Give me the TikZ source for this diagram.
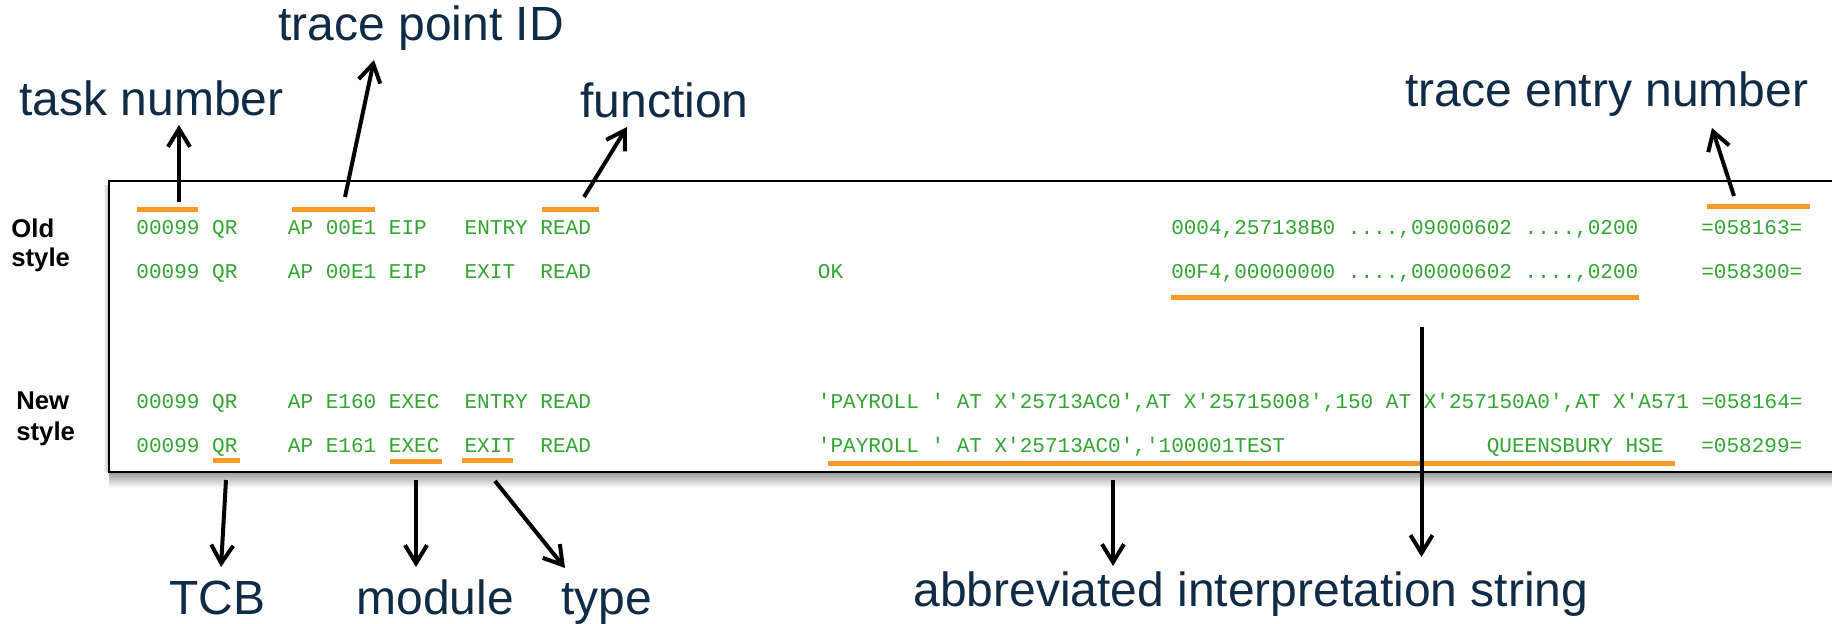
\documentclass[tikz,border=0pt]{standalone}
\usepackage{fontspec}
\setmainfont{Liberation Sans}
\setmonofont{Liberation Mono}
\usetikzlibrary{arrows.meta}
\definecolor{trgreen}{RGB}{50,165,50}
\definecolor{trorange}{RGB}{247,154,38}
\definecolor{trnavy}{RGB}{15,43,70}
\begin{document}
\begin{tikzpicture}[x=0.5pt,y=-0.5pt,
  lbl/.style={font=\fontsize{24}{28}\selectfont, text=trnavy, anchor=base west, inner sep=0pt},
  sty/.style={font=\bfseries\fontsize{12.85}{15}\selectfont, anchor=base west, inner sep=0pt},
  mono/.style={font=\ttfamily\fontsize{10.52}{12}\selectfont, text=trgreen, anchor=base west, inner sep=0pt},
  bar/.style={draw=trorange, line width=2.5pt},
  arr/.style={-{Straight Barb[length=9pt,width=11pt]}, line width=2pt},
]
\useasboundingbox (0,0) rectangle (1832,624);
\fill[white] (0,0) rectangle (1832,624);
% shadow and box
\shade[top color=black!40, bottom color=white] (109,472) rectangle (1832,488);
\shade[left color=white, right color=black!30] (103,186) rectangle (109.4,472);
\draw[line width=1pt, fill=white] (109.4,181) rectangle (1845,471.7);

% style labels
\node[sty] (olda) at (11,237.7) {Old};
\node[sty] (oldb) at (11,266.7) {style};
\node[sty] (newa) at (16,409.3) {New};
\node[sty] (newb) at (16,440.7) {style};

% trace rows
\def\cw{12.62}
\node[mono] (r1a) at (136,235) {00099~QR~~~~AP~00E1~EIP~~~ENTRY~READ};
\node[mono] (r1b) at ({136+82*\cw},235) {0004,257138B0~....,09000602~....,0200};
\node[mono] (r1c) at ({136+124*\cw},235) {=058163=};

\node[mono] (r2a) at (136,278.3) {00099~QR~~~~AP~00E1~EIP~~~EXIT~~READ};
\node[mono] (r2b) at ({136+54*\cw},278.3) {OK};
\node[mono] (r2c) at ({136+82*\cw},278.3) {00F4,00000000~....,00000602~....,0200};
\node[mono] (r2d) at ({136+124*\cw},278.3) {=058300=};

\node[mono] (r3a) at (136,409) {00099~QR~~~~AP~E160~EXEC~~ENTRY~READ};
\node[mono] (r3b) at ({136+54*\cw},409) {'PAYROLL~'~AT~X'25713AC0',AT~X'25715008',150~AT~X'257150A0',AT~X'A571~=058164=};

\node[mono] (r4a) at (136,452.3) {00099~QR~~~~AP~E161~EXEC~~EXIT~~READ};
\node[mono] (r4b) at ({136+54*\cw},452.3) {'PAYROLL~'~AT~X'25713AC0','100001TEST};
\node[mono] (r4c) at ({136+107*\cw},452.3) {QUEENSBURY~HSE};
\node[mono] (r4d) at ({136+124*\cw},452.3) {=058299=};

% orange bars
\coordinate (b1s) at (137,210);   \coordinate (b1e) at (198,210);
\coordinate (b2s) at (292,210);   \coordinate (b2e) at (375,210);
\coordinate (b3s) at (542,210);   \coordinate (b3e) at (599,210);
\coordinate (b4s) at (1707,206.5);\coordinate (b4e) at (1810,206.5);
\coordinate (b5s) at (1171,298);  \coordinate (b5e) at (1639,298);
\coordinate (b6s) at (213,461);   \coordinate (b6e) at (240,461);
\coordinate (b7s) at (390,462);   \coordinate (b7e) at (442,462);
\coordinate (b8s) at (462,461);   \coordinate (b8e) at (513,461);
\coordinate (b9s) at (828,464);   \coordinate (b9e) at (1675,464);
\foreach \i in {1,...,9} {\draw[bar] (b\i s) -- (b\i e);}

% labels
\node[lbl] (ltask) at (19,116) {task number};
\node[lbl] (ltpid) at (278,41) {trace point ID};
\node[lbl] (lfunc) at (580,118) {function};
\node[lbl] (lten)  at (1405,107) {trace entry number};
\node[lbl] (ltcb)  at (169,615) {TCB};
\node[lbl] (lmod)  at (356,615) {module};
\node[lbl] (ltype) at (561,615) {type};
\node[lbl] (labbr) at (913,607) {abbreviated interpretation string};

% arrow end points
\coordinate (a1s) at (179,202);    \coordinate (a1e) at (179,125);
\coordinate (a2s) at (345,197);    \coordinate (a2e) at (374,60);
\coordinate (a3s) at (584,197);    \coordinate (a3e) at (627,127);
\coordinate (a4s) at (1734,196);   \coordinate (a4e) at (1712,128);
\coordinate (a5s) at (226,480);    \coordinate (a5e) at (221,567);
\coordinate (a6s) at (416,480);    \coordinate (a6e) at (416,567);
\coordinate (a7s) at (495,481);    \coordinate (a7e) at (565,568);
\coordinate (a8s) at (1113,480);   \coordinate (a8e) at (1113,566);
\coordinate (a9s) at (1421.5,327); \coordinate (a9e) at (1421.5,557);
\foreach \i in {1,...,9} {\draw[arr] (a\i s) -- (a\i e);}
\end{tikzpicture}
\end{document}
